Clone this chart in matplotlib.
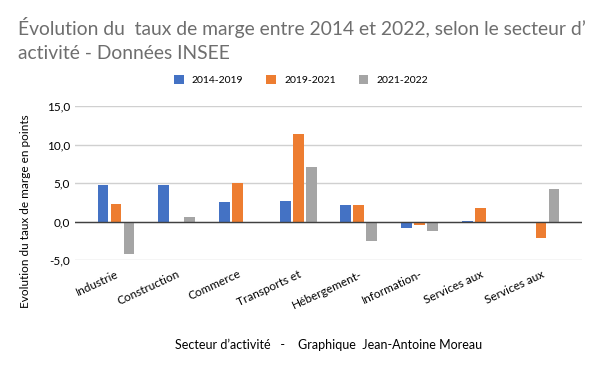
import numpy as np
import matplotlib.pyplot as plt

plt.rcParams['font.family'] = ['Lato', 'DejaVu Sans']

secteurs = ["Industrie", "Construction", "Commerce", "Transports et",
            "Hébergement-", "Information-", "Services aux", "Services aux"]
p2014_2019 = [4.8, 4.8, 2.6, 2.7, 2.2, -0.8, 0.05, -0.05]
p2019_2021 = [2.3, 0.0, 5.0, 11.4, 2.1, -0.4, 1.8, -2.1]
p2021_2022 = [-4.2, 0.6, 0.0, 7.1, -2.5, -1.2, -0.2, 4.2]

series = [("2014-2019", p2014_2019, "#4472C4"),
          ("2019-2021", p2019_2021, "#ED7D31"),
          ("2021-2022", p2021_2022, "#A5A5A5")]

fig = plt.figure(figsize=(6, 3.71), dpi=100)
ax = fig.add_axes([0.125, 0.299, 0.845, 0.415])

x = np.arange(len(secteurs))
w = 0.18
for i, (name, vals, col) in enumerate(series):
    ax.bar(x + (i - 1) * 0.214, vals, w, color=col, label=name, zorder=3)

ax.set_xlim(-0.675, len(secteurs) - 1 + 0.675)
ax.set_ylim(-5, 15)
ax.set_yticks([-5, 0, 5, 10, 15])
ax.set_yticklabels(["-5,0", "0,0", "5,0", "10,0", "15,0"], fontsize=8.5)
ax.yaxis.grid(True, color="#D0D0D0", linewidth=1, zorder=0)
ax.axhline(0, color="#404040", linewidth=1, zorder=4)
ax.tick_params(axis='both', length=0)
for s in ax.spines.values():
    s.set_visible(False)

ax.set_xticks(x)
ax.set_xticklabels(secteurs, rotation=25, ha="right", rotation_mode="anchor",
                   fontsize=8.5)
ax.tick_params(axis='x', pad=6)

fig.text(0.042, 0.43, "Evolution du taux de marge en points", rotation=90,
         ha="center", va="center", fontsize=8.5)
fig.text(0.547, 0.07, "Secteur d\u2019activit\u00e9   -    Graphique  Jean-Antoine Moreau",
         ha="center", va="center", fontsize=9)

fig.text(0.03, 0.894, "\u00c9volution du  taux de marge entre 2014 et 2022, selon le secteur d\u2019\nactivit\u00e9 - Donn\u00e9es INSEE",
         ha="left", va="center", fontsize=13.9, color="#6E6E6E", linespacing=1.5)

ax.legend(loc="center", bbox_to_anchor=(0.446, 1.17), ncol=3, frameon=False,
          fontsize=7.5, handlelength=0.9, handleheight=0.9, columnspacing=2.2,
          handletextpad=0.8)

fig.savefig("out.png", dpi=100)
